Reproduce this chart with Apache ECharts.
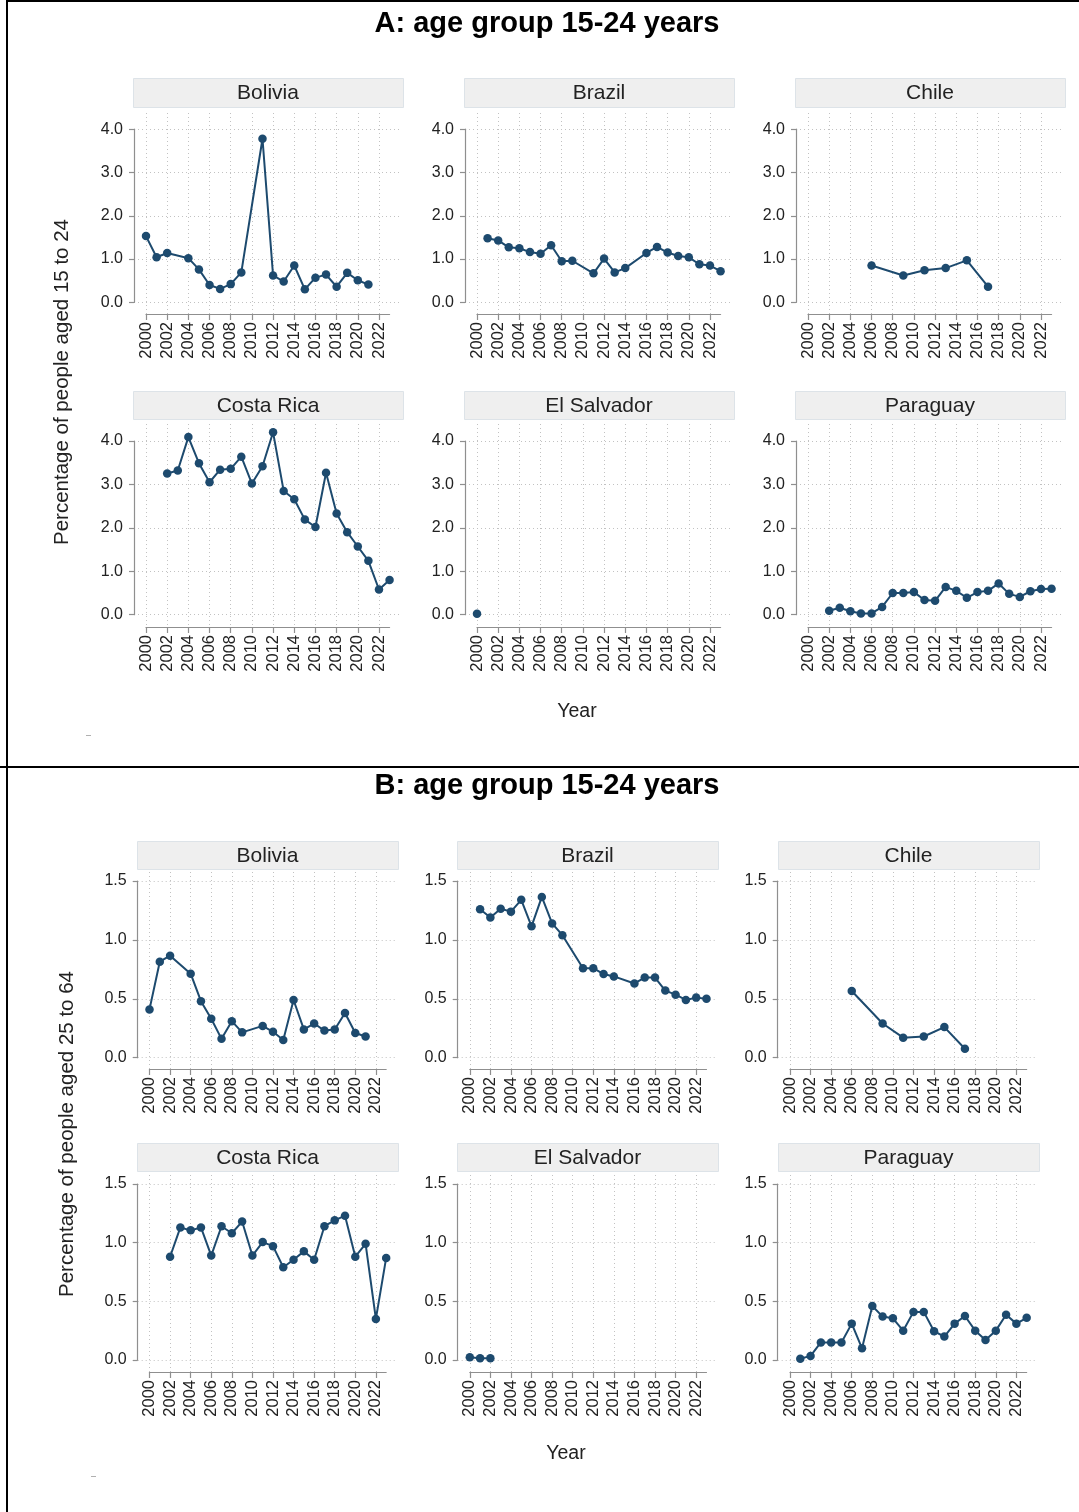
<!DOCTYPE html>
<html>
<head>
<meta charset="utf-8">
<script src="https://cdn.jsdelivr.net/npm/echarts@6/dist/echarts.min.js"></script>
<style>
  html, body { margin: 0; padding: 0; background: #ffffff; }
  #chart { width: 1079px; height: 1512px; }
</style>
</head>
<body>
<div id="chart"></div>
<script>
// ---- Tick positions ----
const X_TICKS = [2000, 2002, 2004, 2006, 2008, 2010, 2012, 2014, 2016, 2018, 2020, 2022];

// ---- A: share of people aged 15 to 24 (%) ----
const boliviaYoungYears  = [2000, 2001, 2002, 2004, 2005, 2006, 2007, 2008, 2009, 2011, 2012, 2013, 2014, 2015, 2016, 2017, 2018, 2019, 2020, 2021];
const boliviaYoungValues = [1.53, 1.04, 1.14, 1.02, 0.76, 0.40, 0.31, 0.42, 0.69, 3.78, 0.62, 0.48, 0.85, 0.30, 0.57, 0.64, 0.36, 0.68, 0.51, 0.41];

const brazilYoungYears  = [2001, 2002, 2003, 2004, 2005, 2006, 2007, 2008, 2009, 2011, 2012, 2013, 2014, 2016, 2017, 2018, 2019, 2020, 2021, 2022, 2023];
const brazilYoungValues = [1.48, 1.43, 1.27, 1.25, 1.16, 1.12, 1.32, 0.95, 0.96, 0.67, 1.01, 0.69, 0.79, 1.14, 1.28, 1.15, 1.07, 1.04, 0.88, 0.85, 0.72];

const chileYoungYears  = [2006, 2009, 2011, 2013, 2015, 2017];
const chileYoungValues = [0.85, 0.62, 0.74, 0.79, 0.97, 0.36];

const costaRicaYoungYears  = [2002, 2003, 2004, 2005, 2006, 2007, 2008, 2009, 2010, 2011, 2012, 2013, 2014, 2015, 2016, 2017, 2018, 2019, 2020, 2021, 2022, 2023];
const costaRicaYoungValues = [3.25, 3.32, 4.09, 3.49, 3.05, 3.34, 3.36, 3.64, 3.02, 3.42, 4.20, 2.85, 2.66, 2.19, 2.02, 3.27, 2.33, 1.90, 1.57, 1.24, 0.58, 0.80];

const elSalvadorYoungYears  = [2000];
const elSalvadorYoungValues = [0.02];

const paraguayYoungYears  = [2002, 2003, 2004, 2005, 2006, 2007, 2008, 2009, 2010, 2011, 2012, 2013, 2014, 2015, 2016, 2017, 2018, 2019, 2020, 2021, 2022, 2023];
const paraguayYoungValues = [0.09, 0.16, 0.08, 0.03, 0.03, 0.18, 0.50, 0.50, 0.52, 0.34, 0.32, 0.64, 0.55, 0.39, 0.52, 0.55, 0.72, 0.48, 0.41, 0.54, 0.59, 0.60];

// ---- B: share of people aged 25 to 64 (%) ----
const boliviaAdultYears  = [2000, 2001, 2002, 2004, 2005, 2006, 2007, 2008, 2009, 2011, 2012, 2013, 2014, 2015, 2016, 2017, 2018, 2019, 2020, 2021];
const boliviaAdultValues = [0.41, 0.815, 0.866, 0.713, 0.48, 0.33, 0.16, 0.31, 0.215, 0.27, 0.22, 0.15, 0.49, 0.24, 0.29, 0.23, 0.24, 0.38, 0.21, 0.18];

const brazilAdultYears  = [2001, 2002, 2003, 2004, 2005, 2006, 2007, 2008, 2009, 2011, 2012, 2013, 2014, 2016, 2017, 2018, 2019, 2020, 2021, 2022, 2023];
const brazilAdultValues = [1.26, 1.19, 1.265, 1.24, 1.34, 1.115, 1.365, 1.14, 1.04, 0.76, 0.76, 0.71, 0.69, 0.63, 0.68, 0.68, 0.57, 0.535, 0.49, 0.51, 0.50];

const chileAdultYears  = [2006, 2009, 2011, 2013, 2015, 2017];
const chileAdultValues = [0.566, 0.29, 0.17, 0.18, 0.26, 0.076];

const costaRicaAdultYears  = [2002, 2003, 2004, 2005, 2006, 2007, 2008, 2009, 2010, 2011, 2012, 2013, 2014, 2015, 2016, 2017, 2018, 2019, 2020, 2021, 2022, 2023];
const costaRicaAdultValues = [0.88, 1.13, 1.105, 1.13, 0.89, 1.14, 1.08, 1.18, 0.89, 1.005, 0.97, 0.79, 0.855, 0.926, 0.855, 1.14, 1.19, 1.23, 0.88, 0.99, 0.35, 0.87];

const elSalvadorAdultYears  = [2000, 2001, 2002];
const elSalvadorAdultValues = [0.023, 0.014, 0.014];

const paraguayAdultYears  = [2001, 2002, 2003, 2004, 2005, 2006, 2007, 2008, 2009, 2010, 2011, 2012, 2013, 2014, 2015, 2016, 2017, 2018, 2019, 2020, 2021, 2022, 2023];
const paraguayAdultValues = [0.01, 0.035, 0.15, 0.15, 0.15, 0.31, 0.10, 0.46, 0.37, 0.355, 0.25, 0.41, 0.41, 0.245, 0.20, 0.31, 0.375, 0.25, 0.17, 0.25, 0.386, 0.31, 0.36];

const COUNTRIES = ['Bolivia', 'Brazil', 'Chile', 'Costa Rica', 'El Salvador', 'Paraguay'];

// ---- Page layout (pixels) ----
const FONT = '"Liberation Sans", Arial, Helvetica, sans-serif';
const LINE_COLOR = '#1d4a6e';
const GRID_LINE = { type: [1, 3], color: '#c2c2c2', width: 1 };
const AXIS_COLOR = '#8f8f8f';
const TEXT_COLOR = '#222222';

const PANELS = [
  {
    title: 'A: age group 15-24 years', titleY: 24,
    yName: 'Percentage of people aged 15 to 24', yNameX: 62, yNameY: 382,
    xName: 'Year', xNameX: 577, xNameY: 712,
    yMax: 4, yStep: 1,
    axisX: [134, 465, 796], x2000: [146, 477, 808], pxPerYear: 10.59, plotWidth: 266,
    stripX: [133, 464, 795], stripW: 270,
    rows: [
      { strip: [78, 107], top: 113, yMaxPx: 129.2, y0Px: 302.3, axisY: 314 },
      { strip: [391, 419], top: 424, yMaxPx: 441, y0Px: 614.7, axisY: 627 }
    ],
    data: [
      [boliviaYoungYears, boliviaYoungValues],
      [brazilYoungYears, brazilYoungValues],
      [chileYoungYears, chileYoungValues],
      [costaRicaYoungYears, costaRicaYoungValues],
      [elSalvadorYoungYears, elSalvadorYoungValues],
      [paraguayYoungYears, paraguayYoungValues]
    ]
  },
  {
    title: 'B: age group 15-24 years', titleY: 786,
    yName: 'Percentage of people aged 25 to 64', yNameX: 67, yNameY: 1134,
    xName: 'Year', xNameX: 566, xNameY: 1454,
    yMax: 1.5, yStep: 0.5,
    axisX: [137.7, 457.7, 777.7], x2000: [149.5, 469.8, 790], pxPerYear: 10.29, plotWidth: 257,
    stripX: [137, 457, 778], stripW: 261,
    rows: [
      { strip: [841, 869], top: 872, yMaxPx: 881, y0Px: 1057.7, axisY: 1069 },
      { strip: [1143, 1171], top: 1175, yMaxPx: 1184, y0Px: 1360, axisY: 1372 }
    ],
    data: [
      [boliviaAdultYears, boliviaAdultValues],
      [brazilAdultYears, brazilAdultValues],
      [chileAdultYears, chileAdultValues],
      [costaRicaAdultYears, costaRicaAdultValues],
      [elSalvadorAdultYears, elSalvadorAdultValues],
      [paraguayAdultYears, paraguayAdultValues]
    ]
  }
];

const grids = [], xAxes = [], yAxes = [], series = [], graphics = [];

function text(x, y, str, font, fill, extra) {
  return Object.assign({
    type: 'text', x: x, y: y, silent: true,
    style: { text: str, font: font, fill: fill || TEXT_COLOR, textAlign: 'center', textVerticalAlign: 'middle', align: 'center', verticalAlign: 'middle' }
  }, extra || {});
}

PANELS.forEach(p => {
  graphics.push(text(547, p.titleY, p.title, 'bold 29px ' + FONT, '#000'));
  graphics.push(text(p.yNameX, p.yNameY, p.yName, '20.5px ' + FONT, null, { rotation: Math.PI / 2 }));
  graphics.push(text(p.xNameX, p.xNameY, p.xName, '19.5px ' + FONT));

  p.data.forEach((pair, i) => {
    const col = i % 3, row = Math.floor(i / 3);
    const r = p.rows[row];
    const pxPerUnit = (r.y0Px - r.yMaxPx) / p.yMax;

    // facet strip
    graphics.push({
      type: 'rect', silent: true,
      shape: { x: p.stripX[col] + 0.5, y: r.strip[0] + 0.5, width: p.stripW, height: r.strip[1] - r.strip[0] },
      style: { fill: '#efefef', stroke: '#dde3e8', lineWidth: 1 }
    });
    graphics.push(text(p.stripX[col] + p.stripW / 2, (r.strip[0] + r.strip[1]) / 2 + 1, COUNTRIES[i], '21px ' + FONT));

    // value axis with horizontal grid lines
    const gy = grids.length;
    grids.push({ left: p.axisX[col], top: r.yMaxPx, width: p.plotWidth, height: r.y0Px - r.yMaxPx });
    xAxes.push({ gridIndex: gy, type: 'value', show: false, min: 0, max: 1 });
    yAxes.push({
      gridIndex: gy, type: 'value', min: 0, max: p.yMax, interval: p.yStep,
      axisLine: { show: true, onZero: false, lineStyle: { color: AXIS_COLOR, width: 1.2 } },
      axisTick: { show: true, length: 5, lineStyle: { color: AXIS_COLOR, width: 1.2 } },
      axisLabel: { margin: 11, color: TEXT_COLOR, fontFamily: FONT, fontSize: 16, formatter: v => v.toFixed(1) },
      splitLine: { show: true, lineStyle: GRID_LINE }
    });

    // year axis with vertical grid lines; the series lives here
    const gx = grids.length;
    grids.push({ left: p.x2000[col], top: r.top, width: 23 * p.pxPerYear, height: r.axisY - r.top });
    xAxes.push({
      gridIndex: gx, type: 'value', min: 2000, max: 2023,
      axisLine: { show: true, onZero: false, lineStyle: { color: AXIS_COLOR, width: 1.2 } },
      axisTick: { show: true, length: 6, customValues: X_TICKS, lineStyle: { color: AXIS_COLOR, width: 1.2 } },
      axisLabel: { customValues: X_TICKS, rotate: 90, margin: 8, color: TEXT_COLOR, fontFamily: FONT, fontSize: 16.5, formatter: v => String(v) },
      splitLine: { show: true, lineStyle: GRID_LINE }
    });
    yAxes.push({
      gridIndex: gx, type: 'value', show: false,
      min: -(r.axisY - r.y0Px) / pxPerUnit,
      max: p.yMax + (r.yMaxPx - r.top) / pxPerUnit
    });

    series.push({
      type: 'line', name: COUNTRIES[i], xAxisIndex: gx, yAxisIndex: gx,
      data: pair[0].map((yr, k) => [yr, pair[1][k]]),
      symbol: 'circle', symbolSize: 8.5, clip: false,
      lineStyle: { color: LINE_COLOR, width: 2 },
      itemStyle: { color: LINE_COLOR },
      emphasis: { disabled: true }
    });
  });
});

// frame around the two figure halves
graphics.push({ type: 'line', silent: true, shape: { x1: 7, y1: 0, x2: 7, y2: 1512 }, style: { stroke: '#000', lineWidth: 2 } });
graphics.push({ type: 'line', silent: true, shape: { x1: 6, y1: 1, x2: 1079, y2: 1 }, style: { stroke: '#000', lineWidth: 2 } });
graphics.push({ type: 'line', silent: true, shape: { x1: 0, y1: 767, x2: 1079, y2: 767 }, style: { stroke: '#000', lineWidth: 2 } });
graphics.push({ type: 'line', silent: true, shape: { x1: 86, y1: 735.5, x2: 91, y2: 735.5 }, style: { stroke: '#b0b0b0', lineWidth: 1 } });
graphics.push({ type: 'line', silent: true, shape: { x1: 91, y1: 1476.5, x2: 96, y2: 1476.5 }, style: { stroke: '#b0b0b0', lineWidth: 1 } });

const chart = echarts.init(document.getElementById('chart'), null, { renderer: 'canvas' });
chart.setOption({
  backgroundColor: '#ffffff',
  animation: false,
  tooltip: { show: false },
  grid: grids,
  xAxis: xAxes,
  yAxis: yAxes,
  series: series,
  graphic: graphics
});
</script>
</body>
</html>
